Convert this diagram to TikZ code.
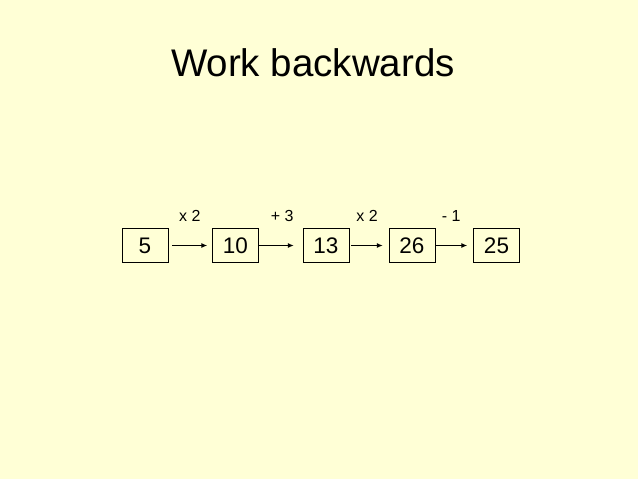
\documentclass[tikz,border=0pt]{standalone}
\usepackage{fontspec}
\setmainfont{Liberation Sans}
\usetikzlibrary{arrows.meta}
\definecolor{slidebg}{RGB}{255,255,214}

\begin{document}
\begin{tikzpicture}[x=1pt,y=-1pt,
    numbox/.style={draw=black,fill=slidebg,minimum width=46pt,minimum height=34pt,inner sep=0pt,font=\fontsize{22.5}{22.5}\selectfont},
    oplabel/.style={font=\fontsize{16}{16}\selectfont},
    step arrow/.style={-{Latex[length=6pt,width=5pt]},line width=1.6pt}]
	\fill [slidebg] (0,0) rectangle (638,479);

	\node (title) at (313,63) {\fontsize{38.5}{38.5}\selectfont Work backwards};

	\node [numbox] (n5)  at (145,245.5) {5};
	\node [numbox] (n10) at (235.5,245.5) {10};
	\node [numbox] (n13) at (326,245.5) {13};
	\node [numbox] (n26) at (412,245.5) {26};
	\node [numbox] (n25) at (496.5,245.5) {25};

	\draw [step arrow] ([xshift=4pt]n5.east) -- ([xshift=-5pt]n10.west) node [midway,above=20pt,oplabel] (op1) {x 2};
	\draw [step arrow] (n10.east) -- ([xshift=-9pt]n13.west) node [midway,above=20pt,xshift=6pt,oplabel] (op2) {+ 3};
	\draw [step arrow] ([xshift=2pt]n13.east) -- ([xshift=-6pt]n26.west) node [midway,above=20pt,oplabel] (op3) {x 2};
	\draw [step arrow] (n26.east) -- ([xshift=-6pt]n25.west) node [midway,above=20pt,oplabel] (op4) {- 1};

\end{tikzpicture}
\end{document}
